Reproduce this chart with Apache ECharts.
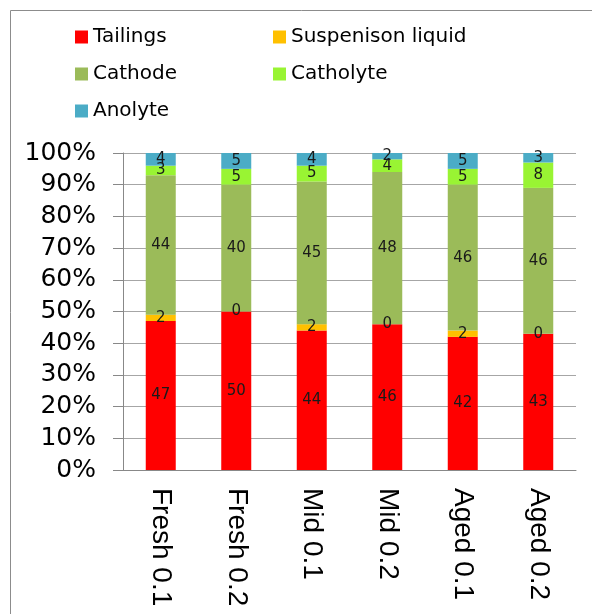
<!DOCTYPE html>
<html>
<head>
<meta charset="utf-8">
<script src="https://cdn.jsdelivr.net/npm/echarts@6/dist/echarts.min.js"></script>
<style>
  html, body { margin: 0; padding: 0; background: #fff; }
  #main { width: 592px; height: 614px; }
</style>
</head>
<body>
<div id="main"></div>
<script>
var categories = ["Fresh 0.1", "Fresh 0.2", "Mid 0.1", "Mid 0.2", "Aged 0.1", "Aged 0.2"];
var tailings = [47, 50, 44, 46, 42, 43];
var suspension = [2, 0, 2, 0, 2, 0];
var cathode = [44, 40, 45, 48, 46, 46];
var catholyte = [3, 5, 5, 4, 5, 8];
var anolyte = [4, 5, 4, 2, 5, 3];

var seriesNames = ["Tailings", "Suspenison liquid", "Cathode", "Catholyte", "Anolyte"];
var seriesData = [tailings, suspension, cathode, catholyte, anolyte];
var colors = ["#ff0000", "#ffc000", "#9bbb59", "#99f433", "#4bacc6"];

// legend spots, two columns like the original
var legendPos = [
  { left: 75, top: 27 },
  { left: 273, top: 27 },
  { left: 75, top: 64 },
  { left: 273, top: 64 },
  { left: 75, top: 101 }
];

var chart = echarts.init(document.getElementById("main"));

var legends = seriesNames.map(function (name, i) {
  return {
    data: [name],
    left: legendPos[i].left,
    top: legendPos[i].top,
    padding: 0,
    itemWidth: 13,
    itemHeight: 13,
    itemGap: 0,
    icon: "rect",
    textStyle: { fontFamily: "DejaVu Sans", fontSize: 20, color: "#000" },
    selectedMode: false
  };
});

var option = {
  animation: false,
  color: colors,
  graphic: [
    {
      type: "rect",
      shape: { x: 10.5, y: 10.5, width: 600, height: 620 },
      style: { fill: "none", stroke: "#8c8c8c", lineWidth: 1 }
    }
  ],
  legend: legends,
  grid: { left: 123, right: 16, top: 153, bottom: 144, containLabel: false },
  xAxis: {
    type: "category",
    data: categories,
    axisLine: { lineStyle: { color: "#888" } },
    axisTick: { alignWithLabel: false, length: 6, lineStyle: { color: "#888" } },
    axisLabel: {
      rotate: -90,
      margin: 18,
      fontFamily: "Liberation Sans",
      fontSize: 28,
      color: "#000"
    }
  },
  yAxis: {
    type: "value",
    min: 0,
    max: 100,
    interval: 10,
    axisLine: { show: true, lineStyle: { color: "#888" } },
    axisTick: { show: true, inside: false, length: 10, lineStyle: { color: "#888" } },
    splitLine: { lineStyle: { color: "#a6a6a6" } },
    axisLabel: {
      formatter: "{value}%",
      margin: 27,
      fontFamily: "DejaVu Sans",
      fontSize: 25,
      color: "#000"
    }
  },
  series: seriesNames.map(function (name, i) {
    return {
      name: name,
      type: "bar",
      stack: "total",
      barWidth: 30,
      data: seriesData[i],
      label: {
        show: true,
        position: "inside",
        fontFamily: "DejaVu Sans",
        fontSize: 15,
        color: "#1a1a1a"
      }
    };
  })
};

chart.setOption(option);
</script>
</body>
</html>
